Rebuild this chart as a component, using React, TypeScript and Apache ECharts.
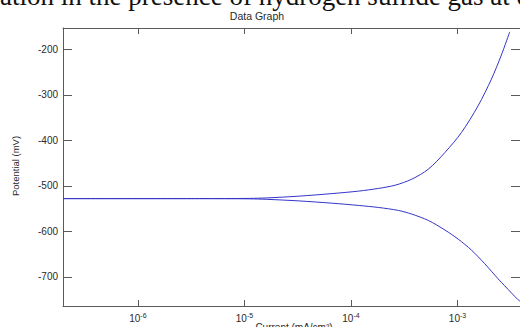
import React, { useEffect, useRef } from "react";
import * as echarts from "echarts";

// Cathodic branch (lower): current (mA/cm²) and potential (mV)
const cathodicCurrent = [1.98e-7, 3.78e-6, 1.11e-5, 1.6e-5, 3.24e-5, 6.6e-5, 1.18e-4, 1.82e-4, 2.79e-4, 3.72e-4, 5.32e-4, 7.62e-4, 1.014e-3, 1.35e-3, 1.8e-3, 2.4e-3, 3.2e-3, 3.69e-3, 3.86e-3];
const cathodicPotential = [-528, -528, -528.5, -529.5, -533, -538, -543, -547.5, -554, -562, -576, -597, -617, -641, -671, -704, -735, -750, -753];

// Anodic branch (upper)
const anodicCurrent = [1.98e-7, 3.78e-6, 1.11e-5, 1.6e-5, 3.24e-5, 6.6e-5, 1.18e-4, 1.82e-4, 2.6e-4, 3.72e-4, 5.32e-4, 7.62e-4, 1.09e-3, 1.56e-3, 2.08e-3, 2.58e-3, 3.09e-3];
const anodicPotential = [-528, -528, -527.5, -526.5, -522.6, -517, -511.5, -505.5, -498.5, -485.3, -463.3, -426.6, -382.6, -324, -265.5, -212.5, -161.5];

const xMin = 1.98e-7;
const xMax = 3.86e-3;
const yMin = -764;
const yMax = -153;

const titleText = "Data Graph";
const xName = "Current (mA/cm²)";
const yName = "Potential (mV)";
const captionText = "ation in the presence of hydrogen sulfide gas at co";

export default function App() {
  const ref = useRef<HTMLDivElement>(null);
  useEffect(() => {
    if (!ref.current) return;
    const chart = echarts.init(ref.current, undefined, { renderer: "svg" });
    const axisColor = "#5a5a5a";
    const textColor = "#2a2a2a";
    const lineColor = "#3434c8";
    const cath = cathodicCurrent.map((c, i) => [c, cathodicPotential[i]]);
    const anod = anodicCurrent.map((c, i) => [c, anodicPotential[i]]);
    chart.setOption({
      animation: false,
      backgroundColor: "#ffffff",
      grid: { left: 63, top: 28, width: 459, height: 278, containLabel: false },
      xAxis: [
        {
          type: "log",
          min: xMin,
          max: xMax,
          position: "bottom",
          axisLine: { show: true, lineStyle: { color: axisColor, width: 1 } },
          axisTick: { show: true, inside: true, length: 6, lineStyle: { color: axisColor } },
          splitLine: { show: false },
          minorTick: { show: false },
          axisLabel: {
            showMinLabel: false,
            showMaxLabel: false,
            margin: 6,
            color: textColor,
            formatter: (v: number) => {
              const e = Math.round(Math.log10(v));
              return `{b|10}{s|${e}}`;
            },
            rich: {
              b: { fontSize: 10, fontFamily: "Liberation Sans", color: textColor },
              s: { fontSize: 7, fontFamily: "Liberation Sans", color: textColor, padding: [0, 0, 6, 0] },
            },
          },
        },
        {
          type: "log",
          min: xMin,
          max: xMax,
          position: "top",
          axisLine: { show: true, lineStyle: { color: axisColor, width: 1 } },
          axisTick: { show: true, inside: true, length: 6, lineStyle: { color: axisColor } },
          axisLabel: { show: false },
          splitLine: { show: false },
        },
      ],
      yAxis: [
        {
          type: "value",
          min: yMin,
          max: yMax,
          position: "left",
          axisLine: { show: true, lineStyle: { color: axisColor, width: 1 } },
          axisTick: { show: true, inside: true, length: 9, lineStyle: { color: axisColor } },
          splitLine: { show: false },
          axisLabel: {
            showMinLabel: false,
            showMaxLabel: false,
            margin: 5,
            fontSize: 10,
            fontFamily: "Liberation Sans",
            color: textColor,
          },
        },
        {
          type: "value",
          min: yMin,
          max: yMax,
          position: "right",
          axisLine: { show: true, lineStyle: { color: axisColor, width: 1 } },
          axisTick: { show: true, inside: true, length: 9, lineStyle: { color: axisColor } },
          splitLine: { show: false },
          axisLabel: { show: false },
        },
      ],
      graphic: [
        {
          type: "text",
          x: 0,
          y: -4,
          style: {
            text: captionText,
            font: "27px 'Liberation Serif'",
            fill: "#111",
            textAlign: "left",
            textVerticalAlign: "middle",
          },
        },
        {
          type: "text",
          x: 257,
          y: 16,
          style: {
            text: titleText,
            font: "10.5px 'Liberation Sans'",
            fill: textColor,
            textAlign: "center",
            textVerticalAlign: "middle",
          },
        },
        {
          type: "text",
          x: 15.5,
          y: 166,
          rotation: Math.PI / 2,
          style: {
            text: yName,
            font: "9.5px 'Liberation Sans'",
            fill: textColor,
            textAlign: "center",
            textVerticalAlign: "middle",
          },
        },
        {
          type: "text",
          x: 294,
          y: 322,
          style: {
            text: xName,
            font: "10px 'Liberation Sans'",
            fill: textColor,
            textAlign: "center",
            textVerticalAlign: "top",
          },
        },
      ],
      series: [
        {
          type: "line",
          name: "cathodic",
          xAxisIndex: 0,
          yAxisIndex: 0,
          data: cath,
          smooth: 0.3,
          showSymbol: false,
          symbol: "none",
          lineStyle: { color: lineColor, width: 1 },
        },
        {
          type: "line",
          name: "anodic",
          xAxisIndex: 0,
          yAxisIndex: 0,
          data: anod,
          smooth: 0.3,
          showSymbol: false,
          symbol: "none",
          lineStyle: { color: lineColor, width: 1 },
        },
      ],
    });
    return () => chart.dispose();
  }, []);
  return (
    <div
      ref={ref}
      style={{ position: "fixed", left: 0, top: 0, width: 520, height: 327, background: "#fff" }}
    />
  );
}
